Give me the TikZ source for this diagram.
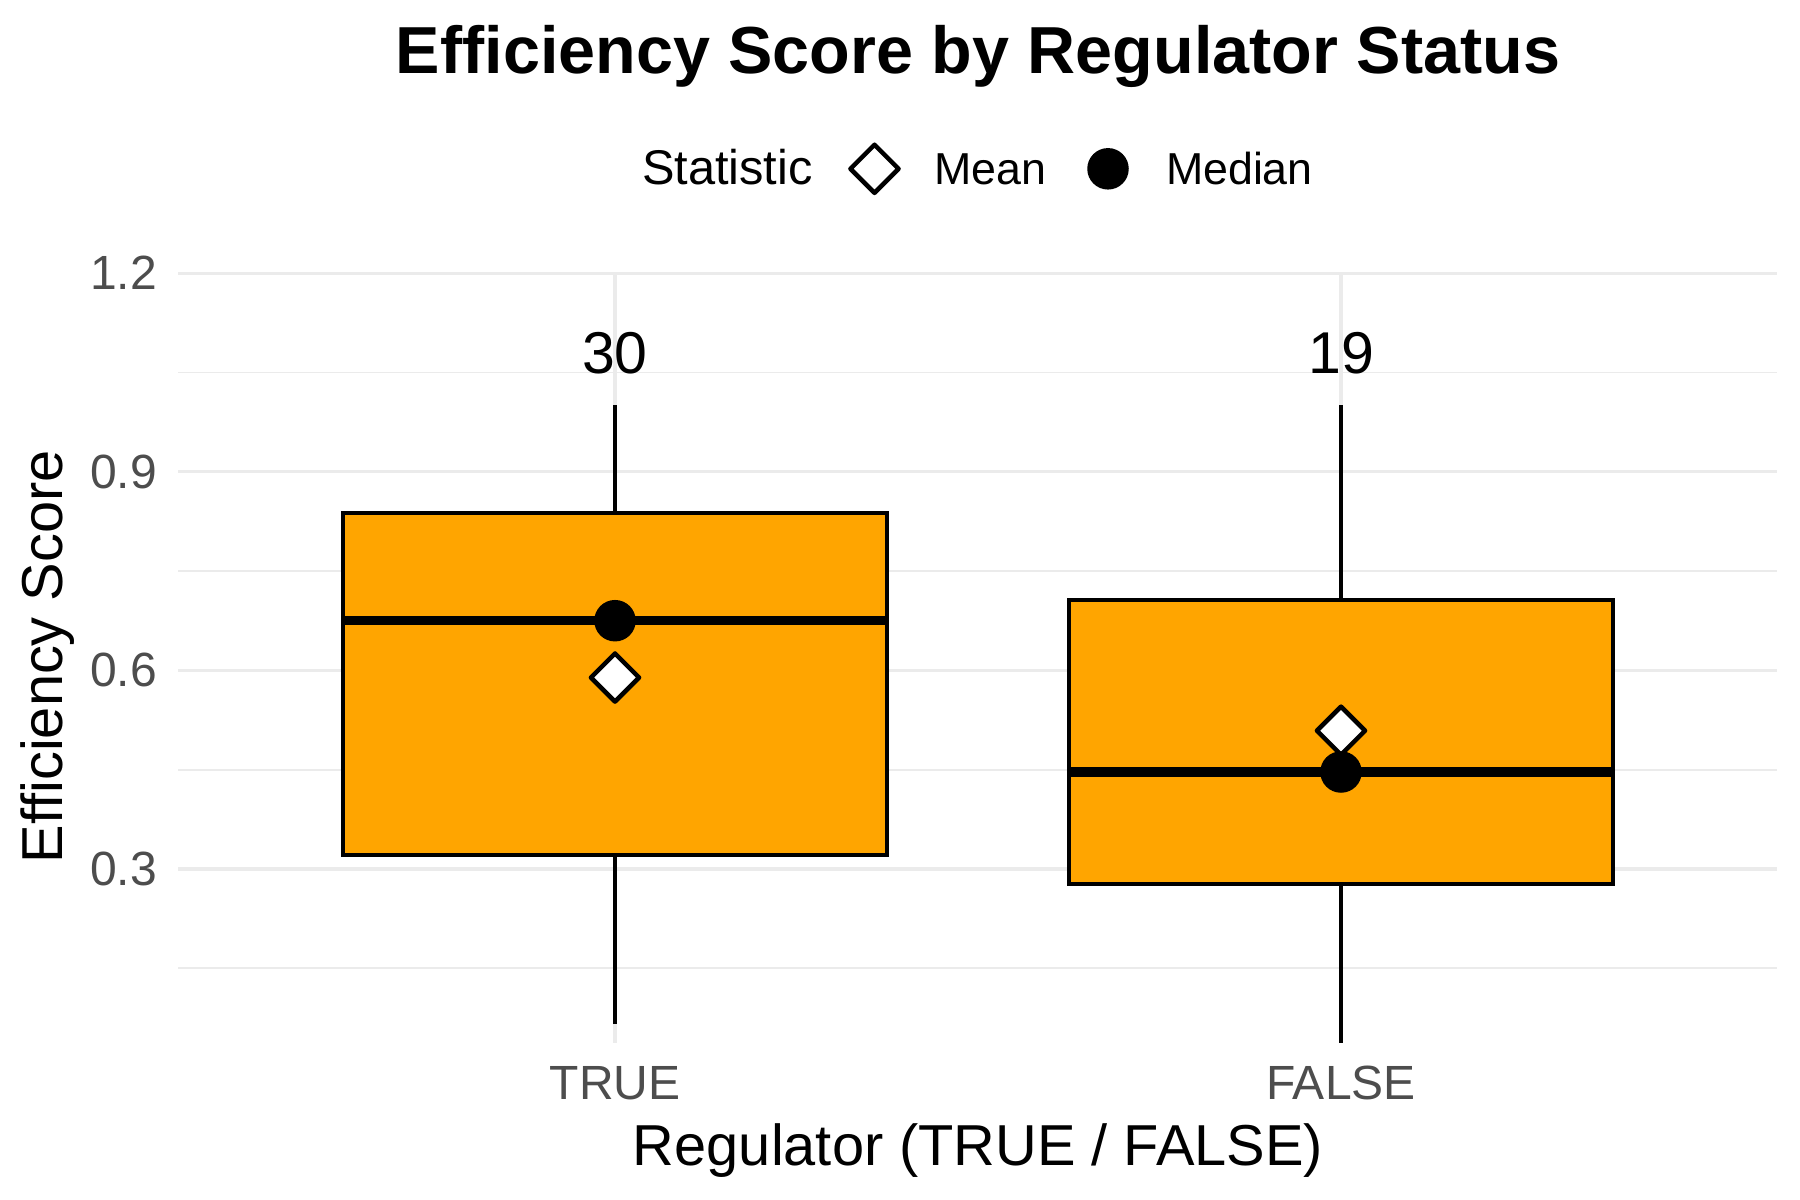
\documentclass[tikz,border=0pt]{standalone}
\usepackage{fontspec}
\setmainfont{Liberation Sans}
\usetikzlibrary{shapes.geometric}
\definecolor{boxorange}{HTML}{FFA500}
\definecolor{gridgray}{HTML}{EBEBEB}
\definecolor{tickgray}{HTML}{4D4D4D}
\begin{document}
\begin{tikzpicture}[x=0.4pt,y=-0.4pt,
  majorgrid/.style={draw=gridgray,line width=1.32pt},
  minorgrid/.style={draw=gridgray,line width=0.75pt},
  boxstyle/.style={draw=black,fill=boxorange,line width=1.5pt},
  whisk/.style={draw=black,line width=1.5pt},
  medline/.style={draw=black,line width=3.7pt},
  meanmark/.style={diamond,draw=black,fill=white,line width=1.8pt,line join=round,
    minimum width=20pt,minimum height=20pt,inner sep=0pt,aspect=1},
  medmark/.style={circle,fill=black,minimum size=16.6pt,inner sep=0pt},
  txt/.style={inner sep=0pt,outer sep=0pt},
  titletxt/.style={txt,font=\fontsize{26.6pt}{32pt}\selectfont\bfseries},
  legtitle/.style={txt,font=\fontsize{19.5pt}{23pt}\selectfont},
  legtxt/.style={txt,font=\fontsize{17.9pt}{21pt}\selectfont},
  ticktxt/.style={txt,text=tickgray,font=\fontsize{19.2pt}{23pt}\selectfont},
  axtitle/.style={txt,font=\fontsize{23.1pt}{28pt}\selectfont},
  counttxt/.style={txt,font=\fontsize{23.6pt}{28pt}\selectfont}]
\useasboundingbox[fill=white] (0,0) rectangle (1800,1200);

% grid
\foreach \yy in {372.5,571.1,769.7,968.3}
  \draw[minorgrid] (178,\yy) -- (1777,\yy);
\foreach \yy in {273.2,471.8,670.4,869.0}
  \draw[majorgrid] (178,\yy) -- (1777,\yy);
\foreach \xx in {615,1341}
  \draw[majorgrid] (\xx,273.2) -- (\xx,1042.7);

% coordinates
\coordinate (tWt) at (615,405);
\coordinate (tQ3) at (615,513.3);
\coordinate (tQ1) at (615,855);
\coordinate (tWb) at (615,1024);
\coordinate (fWt) at (1341,405);
\coordinate (fQ3) at (1341,600.3);
\coordinate (fQ1) at (1341,884);
\coordinate (fWb) at (1341,1042.7);
\coordinate (tBoxA) at (343,513.3);
\coordinate (tBoxB) at (887,855);
\coordinate (fBoxA) at (1069,600.3);
\coordinate (fBoxB) at (1613,884);
\coordinate (tMedL) at (343,620.7);
\coordinate (tMedR) at (887,620.7);
\coordinate (fMedL) at (1069,772);
\coordinate (fMedR) at (1613,772);

% whiskers
\draw[whisk] (tWt) -- (tQ3);
\draw[whisk] (tQ1) -- (tWb);
\draw[whisk] (fWt) -- (fQ3);
\draw[whisk] (fQ1) -- (fWb);

% boxes
\draw[boxstyle] (tBoxA) rectangle (tBoxB);
\draw[boxstyle] (fBoxA) rectangle (fBoxB);
\draw[medline] (tMedL) -- (tMedR);
\draw[medline] (fMedL) -- (fMedR);

% points
\node[medmark] (tMedian) at (615,620.7) {};
\node[meanmark] (tMean) at (615,677.5) {};
\node[meanmark] (fMean) at (1341,730.7) {};
\node[medmark] (fMedian) at (1341,772) {};

% counts
\node[counttxt,anchor=base] (tCount) at (615,373.3) {30};
\node[counttxt,anchor=base] (fCount) at (1341,373.3) {19};

% y ticks
\node[ticktxt,anchor=east] (y12) at (157,273.2) {1.2};
\node[ticktxt,anchor=east] (y09) at (157,471.8) {0.9};
\node[ticktxt,anchor=east] (y06) at (157,670.4) {0.6};
\node[ticktxt,anchor=east] (y03) at (157,869.0) {0.3};

% x ticks
\node[ticktxt,anchor=base] (xTrue) at (615,1099) {TRUE};
\node[ticktxt,anchor=base] (xFalse) at (1341,1099) {FALSE};

% axis titles
\node[axtitle,anchor=base] (xTitle) at (978,1165) {Regulator (TRUE / FALSE)};
\node[axtitle,anchor=base,rotate=90] (yTitle) at (62,656.7) {Efficiency Score};

% title
\node[titletxt,anchor=base] (title) at (978,73.5) {Efficiency Score by Regulator Status};

% legend
\node[legtitle,anchor=base west] (legTitle) at (642,184.5) {Statistic};
\node[meanmark] (legMean) at (874.5,168.8) {};
\node[legtxt,anchor=base west] (legMeanTxt) at (934,184.5) {Mean};
\node[medmark] (legMedian) at (1108,168.8) {};
\node[legtxt,anchor=base west] (legMedianTxt) at (1166,184.5) {Median};
\end{tikzpicture}
\end{document}
